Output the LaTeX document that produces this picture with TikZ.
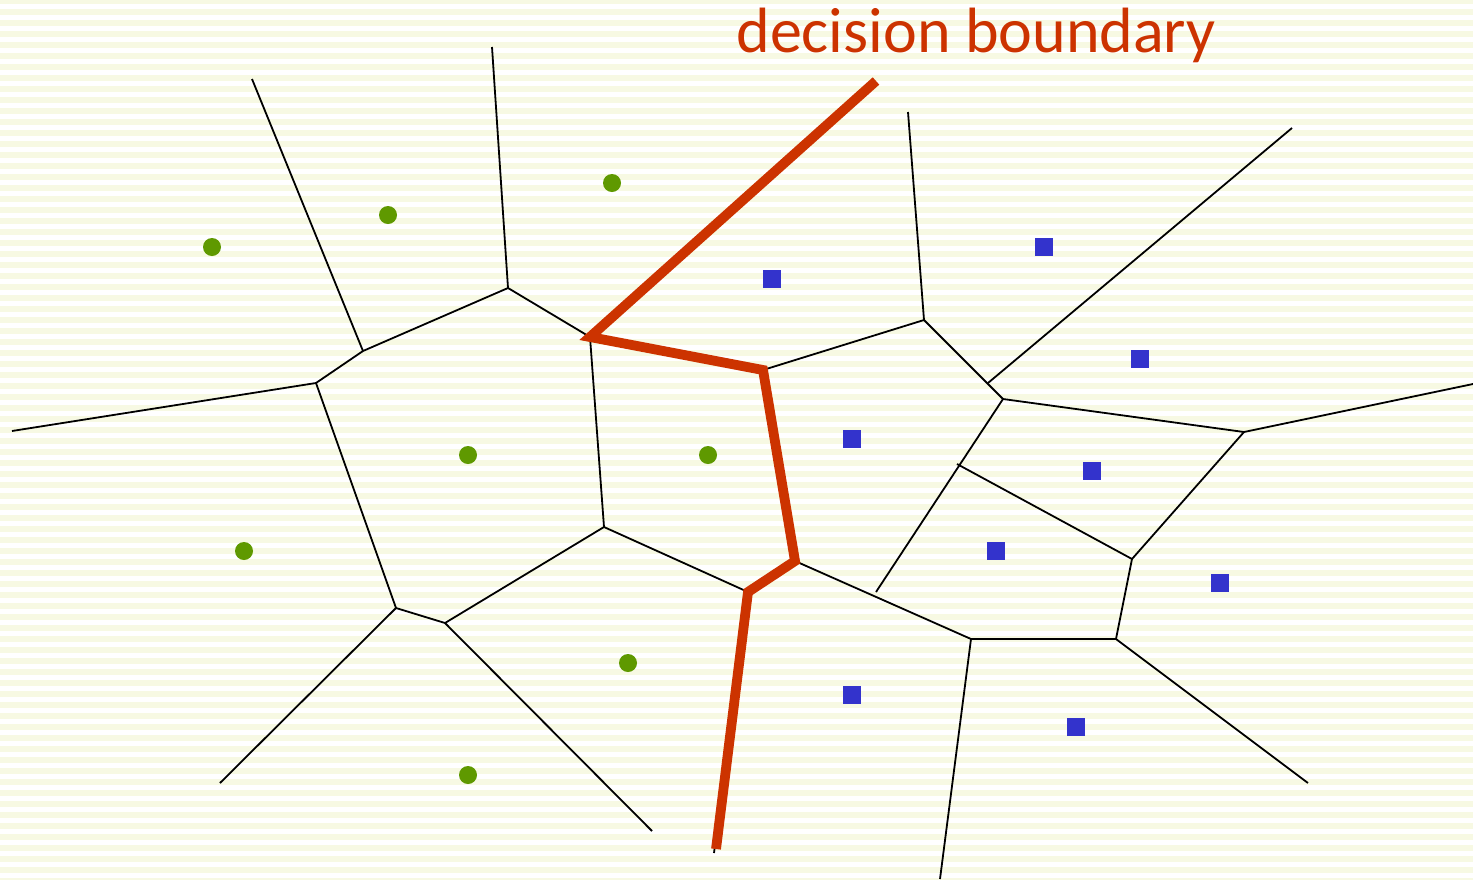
\documentclass[tikz,border=0pt]{standalone}
\usepackage{fontspec}
\setmainfont{Carlito}
\definecolor{stripe}{HTML}{F7F9E3}
\definecolor{dotgreen}{HTML}{5F9900}
\definecolor{sqblue}{HTML}{3333CC}
\definecolor{bndred}{HTML}{CC3300}
\begin{document}
\begin{tikzpicture}[x=0.5pt,y=-0.5pt,
    edge/.style={line width=0.9pt},
    bnd/.style={line width=4.9pt,draw=bndred},
    gdot/.style={circle,fill=dotgreen,inner sep=0pt,minimum size=9pt},
    bsq/.style={rectangle,fill=sqblue,inner sep=0pt,minimum size=9pt}]
    \useasboundingbox (0,0) rectangle (1473,879);
    \fill[white] (0,0) rectangle (1473,879);
    \foreach \y in {0,...,80} {
        \fill[stripe] (0,-1.7+11*\y) rectangle (1473,3.9+11*\y);
    }
    % cell corners
    \coordinate (a) at (363,351);
    \coordinate (b) at (508,288);
    \coordinate (c) at (316,383);
    \coordinate (d) at (396,608);
    \coordinate (e) at (445,623);
    \coordinate (f) at (604,527);
    \coordinate (g) at (590,337);
    \coordinate (h) at (763,370);
    \coordinate (i) at (795,561);
    \coordinate (j) at (748,592);
    \coordinate (k) at (924,320);
    \coordinate (l) at (988,383);
    \coordinate (m) at (1003,399);
    \coordinate (n) at (1244,432);
    \coordinate (p) at (957,464);
    \coordinate (q) at (876,592);
    \coordinate (r) at (1132,559);
    \coordinate (s) at (1116,639);
    \coordinate (t) at (971,639);
    % open ends
    \coordinate (o1) at (252,79);
    \coordinate (o2) at (492,47);
    \coordinate (o3) at (12,431);
    \coordinate (o4) at (220,783);
    \coordinate (o5) at (652,831);
    \coordinate (o6) at (908,112);
    \coordinate (o7) at (1292,128);
    \coordinate (o8) at (1473,384);
    \coordinate (o9) at (940,879);
    \coordinate (o10) at (1308,783);
    \coordinate (top) at (876,81);
    \coordinate (bot) at (714,853);
    \coordinate (redend) at (716,849);
    \foreach \u/\v in {o1/a,o2/b,o3/c,c/a,a/b,b/g,g/f,c/d,d/e,e/f,f/j,d/o4,e/o5,
                       h/k,o6/k,k/m,l/o7,m/n,n/o8,m/q,p/r,n/r,r/s,i/t,t/s,t/o9,s/o10,
                       g/h,h/i,i/j,j/bot} {
        \draw[edge] (\u) -- (\v);
    }
    \draw[bnd] (top) -- (g) -- (h) -- (i) -- (j) -- (redend);
    % class one
    \foreach \x/\y [count=\n] in {212/247,388/215,612/183,468/455,708/455,244/551,628/663,468/775} {
        \node[gdot] (g\n) at (\x,\y) {};
    }
    % class two
    \foreach \x/\y [count=\n] in {772/279,1044/247,1140/359,852/439,1092/471,996/551,1220/583,852/695,1076/727} {
        \node[bsq] (b\n) at (\x,\y) {};
    }
    \node[anchor=base west,text=bndred,font=\fontsize{32}{38}\selectfont,inner sep=0pt] (lbl) at (736,52) {decision boundary};
\end{tikzpicture}
\end{document}
